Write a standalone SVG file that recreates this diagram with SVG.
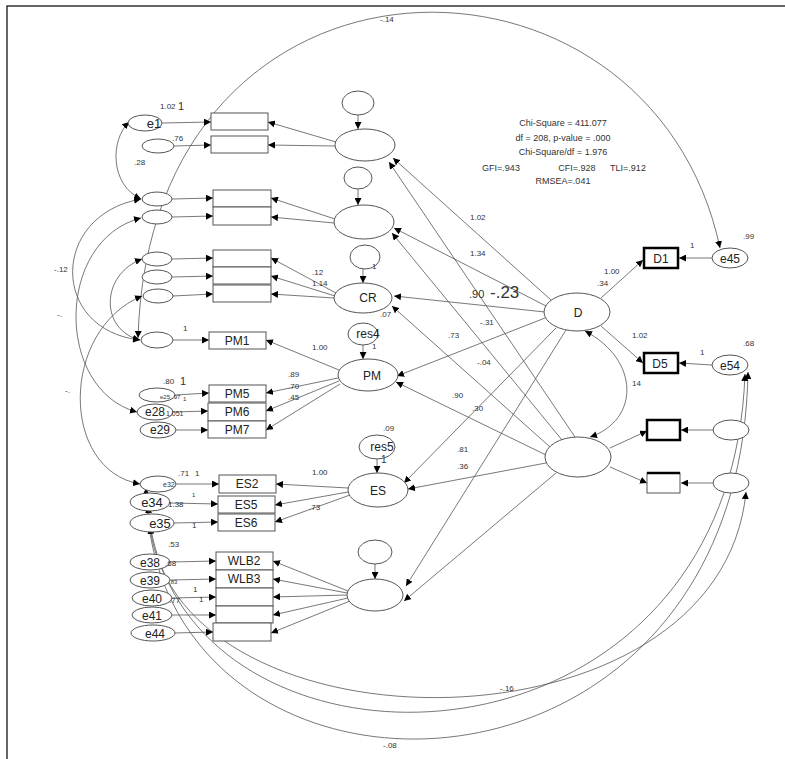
<svg xmlns="http://www.w3.org/2000/svg" width="785" height="759" viewBox="0 0 785 759">
<defs>
<marker id="a" viewBox="0 0 10 10" refX="10" refY="5" markerWidth="7" markerHeight="7" orient="auto-start-reverse" markerUnits="userSpaceOnUse"><path d="M0,0L10,5L0,10z" style="fill:#000;stroke:none"/></marker>
<style>
ellipse,rect{fill:#fff;stroke:#555;stroke-width:1}
.t{stroke:#000;stroke-width:2.5}
.c line,.c path{stroke:#555;stroke-width:0.8;fill:none;marker-end:url(#a)}
.c .d{marker-start:url(#a)}
text{font-family:"Liberation Sans",Arial,sans-serif;font-size:8px;fill:#333}
.n{font-size:12px;text-anchor:middle;fill:#222}
.m{text-anchor:middle;font-size:9px}
</style>
</defs>
<rect x="7" y="6" width="790" height="760" style="stroke:#000;stroke-width:1.2;fill:none"/>
<g class="c" id="connectors">
<path class="d" d="M138,338 C150,-80 650,-80 720,248"/>
<path class="d" d="M146,488 C150,840 740,840 748,372"/>
<path class="d" d="M148,506 C170,800 730,800 745,374"/>
<path class="d" d="M150,527 C180,760 720,760 746,492"/>
<path class="d" d="M129,122 C110,140 110,185 141,199"/>
<path class="d" d="M141,199 C50,215 50,330 140,340"/>
<path class="d" d="M141,218 C55,240 55,390 137,412"/>
<path class="d" d="M142,259 C100,275 100,330 140,340"/>
<path class="d" d="M142,296 C60,330 60,470 140,484"/>
<path class="d" d="M585,331 C640,360 640,420 590,437"/>
<line x1="162" y1="123" x2="211" y2="122"/><line x1="174" y1="146" x2="211" y2="145"/>
<line x1="336" y1="142" x2="268" y2="122"/><line x1="335" y1="146" x2="268" y2="145"/>
<line x1="358" y1="115" x2="358" y2="129"/>
<line x1="172" y1="199" x2="213" y2="198"/><line x1="172" y1="217" x2="213" y2="216"/>
<line x1="335" y1="219" x2="271" y2="198"/><line x1="334" y1="223" x2="271" y2="217"/>
<line x1="358" y1="189" x2="358" y2="205"/>
<line x1="172" y1="259" x2="213" y2="258"/><line x1="172" y1="277" x2="213" y2="276"/><line x1="173" y1="296" x2="213" y2="294"/>
<line x1="336" y1="293" x2="271" y2="258"/><line x1="335" y1="296" x2="271" y2="276"/><line x1="334" y1="298" x2="271" y2="294"/>
<line x1="363" y1="269" x2="363" y2="283"/>
<line x1="173" y1="340" x2="209" y2="340"/>
<line x1="363" y1="345" x2="363" y2="359"/>
<line x1="339" y1="370" x2="266" y2="340"/><line x1="338" y1="378" x2="266" y2="393"/><line x1="339" y1="381" x2="266" y2="411"/><line x1="340" y1="384" x2="266" y2="430"/>
<line x1="175" y1="395" x2="209" y2="393"/><line x1="173" y1="412" x2="208" y2="411"/><line x1="176" y1="430" x2="208" y2="430"/>
<line x1="377" y1="459" x2="377" y2="473"/>
<line x1="348" y1="488" x2="276" y2="484"/><line x1="348" y1="492" x2="275" y2="505"/><line x1="350" y1="495" x2="275" y2="522"/>
<line x1="176" y1="484" x2="219" y2="484"/><line x1="170" y1="503" x2="218" y2="504"/><line x1="174" y1="523" x2="218" y2="522"/>
<line x1="375" y1="564" x2="375" y2="579"/>
<line x1="348" y1="591" x2="273" y2="561"/><line x1="347" y1="593" x2="273" y2="579"/><line x1="347" y1="595" x2="273" y2="597"/><line x1="348" y1="598" x2="273" y2="615"/><line x1="350" y1="601" x2="271" y2="633"/>
<line x1="170" y1="562" x2="216" y2="561"/><line x1="170" y1="580" x2="216" y2="579"/><line x1="172" y1="598" x2="216" y2="597"/><line x1="170" y1="615" x2="216" y2="615"/><line x1="174" y1="633" x2="213" y2="632"/>
<line x1="551" y1="300" x2="393" y2="158"/><line x1="546" y1="306" x2="394" y2="228"/><line x1="545" y1="312" x2="394" y2="296"/>
<line x1="545" y1="318" x2="397" y2="376"/><line x1="556" y1="328" x2="404" y2="483"/><line x1="566" y1="330" x2="406" y2="586"/>
<line x1="575" y1="437" x2="389" y2="162"/><line x1="562" y1="440" x2="392" y2="233"/><line x1="550" y1="447" x2="392" y2="306"/>
<line x1="546" y1="455" x2="396" y2="382"/><line x1="546" y1="463" x2="408" y2="489"/><line x1="556" y1="473" x2="404" y2="601"/>
<line x1="601" y1="298" x2="643" y2="260"/><line x1="601" y1="326" x2="643" y2="363"/>
<line x1="712" y1="258" x2="679" y2="258"/><line x1="712" y1="365" x2="679" y2="363"/>
<line x1="610" y1="448" x2="647" y2="431"/><line x1="610" y1="467" x2="647" y2="483"/>
<line x1="713" y1="430" x2="681" y2="430"/><line x1="713" y1="483" x2="681" y2="483"/>
</g>
<g id="g1"><rect x="211" y="113" width="57" height="17"/><rect x="211" y="136" width="57" height="17"/>
<ellipse cx="365" cy="145" rx="30" ry="16"/><ellipse cx="358" cy="103" rx="16" ry="12"/>
<ellipse cx="145" cy="123" rx="17" ry="8"/><text x="154" y="128" class="n" style="font-size:13px">e1</text><ellipse cx="158" cy="146" rx="16" ry="7"/></g>
<g id="g2"><rect x="213" y="190" width="58" height="17"/><rect x="213" y="207" width="58" height="18"/>
<ellipse cx="364" cy="222" rx="30" ry="17"/><ellipse cx="358" cy="178" rx="14" ry="11"/>
<ellipse cx="157" cy="199" rx="15" ry="7"/><ellipse cx="157" cy="217" rx="15" ry="7"/></g>
<g id="CR"><rect x="213" y="250" width="58" height="17"/><rect x="213" y="267" width="58" height="17"/><rect x="213" y="285" width="58" height="17"/>
<ellipse cx="363" cy="298" rx="29" ry="15"/><text x="368" y="302" class="n">CR</text><ellipse cx="365" cy="257" rx="15" ry="12"/>
<ellipse cx="157" cy="259" rx="15" ry="7"/><ellipse cx="157" cy="277" rx="15" ry="7"/><ellipse cx="158" cy="296" rx="15" ry="7"/></g>
<g id="PM"><rect x="209" y="332" width="57" height="17"/><text x="237" y="345" class="n">PM1</text><ellipse cx="157" cy="340" rx="16" ry="8"/>
<ellipse cx="368" cy="375" rx="30" ry="16"/><text x="372" y="380" class="n">PM</text>
<ellipse cx="363" cy="334" rx="15" ry="11"/><text x="368" y="338" class="n">res4</text>
<rect x="209" y="385" width="57" height="17"/><text x="237" y="398" class="n">PM5</text>
<rect x="208" y="403" width="58" height="18"/><text x="237" y="416" class="n">PM6</text>
<rect x="208" y="421" width="58" height="17"/><text x="237" y="434" class="n">PM7</text>
<ellipse cx="157" cy="395" rx="18" ry="7"/><text x="160" y="399" style="font-size:6px">e25</text>
<ellipse cx="155" cy="412" rx="18" ry="8"/><text x="155" y="416" class="n">e28</text>
<ellipse cx="158" cy="430" rx="18" ry="8"/><text x="160" y="434" class="n">e29</text></g>
<g id="ES"><ellipse cx="378" cy="490" rx="30" ry="17"/><text x="378" y="495" class="n">ES</text>
<ellipse cx="377" cy="447" rx="18" ry="12"/><text x="382" y="451" class="n">res5</text>
<rect x="219" y="475" width="57" height="18"/><text x="247" y="488" class="n">ES2</text>
<rect x="218" y="496" width="57" height="17"/><text x="246" y="509" class="n">ES5</text>
<rect x="218" y="514" width="57" height="17"/><text x="246" y="527" class="n">ES6</text>
<ellipse cx="158" cy="484" rx="18" ry="8"/><text x="163" y="487" style="font-size:7px">e32</text>
<ellipse cx="150" cy="502" rx="20" ry="9"/><text x="152" y="507" class="n" style="font-size:13px">e34</text>
<ellipse cx="152" cy="523" rx="22" ry="9"/><text x="160" y="528" class="n" style="font-size:13px">e35</text></g>
<g id="WLB"><ellipse cx="375" cy="595" rx="28" ry="16"/><ellipse cx="375" cy="552" rx="17" ry="12"/>
<rect x="216" y="552" width="57" height="18"/><text x="244" y="565" class="n">WLB2</text>
<rect x="216" y="570" width="57" height="18"/><text x="244" y="583" class="n">WLB3</text>
<rect x="216" y="588" width="57" height="18"/><rect x="216" y="606" width="57" height="17"/><rect x="213" y="623" width="58" height="18"/>
<ellipse cx="150" cy="562" rx="20" ry="8"/><text x="150" y="567" class="n">e38</text>
<ellipse cx="150" cy="580" rx="20" ry="8"/><text x="150" y="585" class="n">e39</text>
<ellipse cx="152" cy="598" rx="20" ry="8"/><text x="152" y="603" class="n">e40</text>
<ellipse cx="152" cy="615" rx="20" ry="8"/><text x="152" y="620" class="n">e41</text>
<ellipse cx="153" cy="633" rx="22" ry="8"/><text x="155" y="638" class="n">e44</text></g>
<g id="D"><ellipse cx="577" cy="312" rx="33" ry="19"/><text x="578" y="317" class="n">D</text>
<rect x="644" y="248" width="34" height="20" class="t"/><text x="661" y="263" class="n">D1</text>
<rect x="644" y="353" width="34" height="20" class="t"/><text x="660" y="368" class="n">D5</text>
<ellipse cx="730" cy="258" rx="18" ry="10"/><text x="730" y="263" class="n">e45</text>
<ellipse cx="730" cy="365" rx="18" ry="10"/><text x="730" y="370" class="n">e54</text></g>
<g id="L"><ellipse cx="578" cy="457" rx="33" ry="20"/>
<rect x="647" y="420" width="33" height="20" class="t"/><rect x="647" y="473" width="33" height="20"/><line x1="647" y1="473" x2="680" y2="473" style="stroke:#000;stroke-width:2.5"/>
<ellipse cx="731" cy="430" rx="18" ry="10"/><ellipse cx="731" cy="483" rx="18" ry="10"/></g>
<g id="labels">
<text x="563" y="126" class="m">Chi-Square = 411.077</text>
<text x="563" y="141" class="m">df = 208, p-value = .000</text>
<text x="563" y="155" class="m">Chi-Square/df = 1.976</text>
<text x="501" y="171" class="m">GFI=.943</text><text x="577" y="171" class="m">CFI=.928</text><text x="628" y="171" class="m">TLI=.912</text>
<text x="563" y="184" class="m">RMSEA=.041</text>
<text x="380" y="22">-.14</text>
<text x="160" y="109">1.02</text><text x="178" y="110" style="font-size:11px">1</text><text x="172" y="141">.76</text>
<text x="134" y="165">.28</text><text x="54" y="272">-.12</text><text x="57" y="317">-.</text><text x="65" y="393">-.</text>
<text x="312" y="275">.12</text><text x="312" y="286">1.14</text><text x="372" y="269">1</text><text x="380" y="317">.07</text>
<text x="183" y="331">1</text><text x="312" y="350">1.00</text><text x="372" y="349">1</text>
<text x="288" y="377">.89</text><text x="288" y="389">.70</text><text x="288" y="400">.45</text>
<text x="163" y="384">.80</text><text x="180" y="385" style="font-size:11px">1</text>
<text x="172" y="399" style="font-size:6px">.97</text><text x="183" y="401" style="font-size:6px">1</text>
<text x="166" y="416" style="font-size:7px">1.051</text>
<text x="383" y="431">.09</text><text x="381" y="463" style="font-size:10px">1</text>
<text x="178" y="476">.71</text><text x="195" y="476">1</text><text x="192" y="497" style="font-size:6px">1</text>
<text x="168" y="507">1.38</text><text x="192" y="528">1</text><text x="168" y="547">.53</text>
<text x="312" y="475">1.00</text><text x="309" y="510">.73</text>
<text x="165" y="566">.68</text><text x="169" y="584" style="font-size:6px">.83</text>
<text x="193" y="592">1</text><text x="169" y="603">.77</text><text x="199" y="602">1</text>
<text x="470" y="220">1.02</text><text x="470" y="256">1.34</text>
<text x="469" y="298" style="font-size:11px">.90</text><text x="490" y="298" style="font-size:17px">-.23</text>
<text x="480" y="325">-.31</text><text x="448" y="338">.73</text><text x="477" y="365">-.04</text>
<text x="452" y="398">.90</text><text x="472" y="411">.30</text><text x="457" y="452">.81</text><text x="457" y="469">.36</text>
<text x="604" y="274">1.00</text><text x="597" y="286">.34</text><text x="632" y="338">1.02</text><text x="632" y="386">14</text>
<text x="690" y="248">1</text><text x="743" y="239">.99</text><text x="700" y="355">1</text><text x="743" y="346">.68</text>
<text x="500" y="691">-.16</text><text x="383" y="748">-.08</text>
</g>
</svg>
